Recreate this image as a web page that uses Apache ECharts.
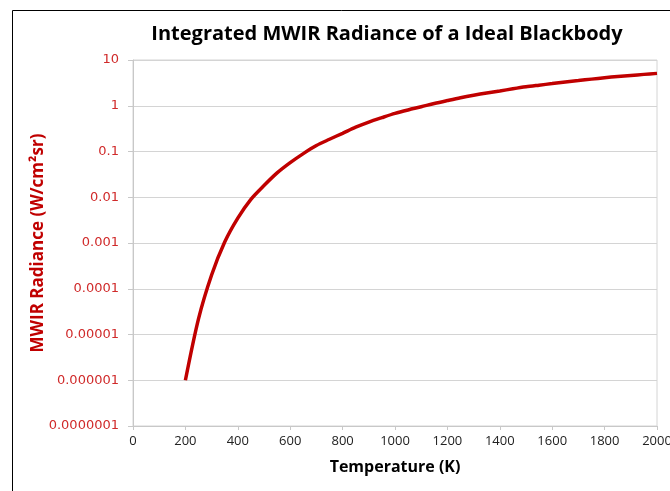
<!DOCTYPE html>
<html>
<head>
<meta charset="utf-8">
<script src="https://cdn.jsdelivr.net/npm/echarts@6/dist/echarts.min.js"></script>
<style>
  html, body { margin: 0; padding: 0; background: #fff; }
  #chart { width: 670px; height: 491px; }
</style>
</head>
<body>
<div id="chart"></div>
<script>
// temperatures (K) every 50 K, and radiance
var temps = [200, 250, 300, 350, 400, 450, 500, 550, 600, 650, 700, 750, 800, 850, 900, 950,
             1000, 1050, 1100, 1150, 1200, 1250, 1300, 1350, 1400, 1450, 1500, 1550, 1600,
             1650, 1700, 1750, 1800, 1850, 1900, 1950, 2000];
var radiance = [1e-6, 2.2e-5, 2.0e-4, 1.05e-3, 3.5e-3, 9e-3, 0.018, 0.034, 0.057, 0.09, 0.135,
                0.185, 0.25, 0.34, 0.44, 0.55, 0.68, 0.81, 0.95, 1.12, 1.3, 1.5, 1.7, 1.9,
                2.1, 2.35, 2.6, 2.82, 3.05, 3.3, 3.55, 3.82, 4.1, 4.35, 4.6, 4.85, 5.1];

var chart = echarts.init(document.getElementById('chart'));
var font = '"Open Sans", sans-serif';

var option = {
    animation: false,
    title: {
        text: 'Integrated MWIR Radiance of a Ideal Blackbody',
        left: 382,
        textAlign: 'center',
        top: 19,
        textStyle: { fontFamily: font, fontSize: 20, fontWeight: 'bold', color: '#000' }
    },
    graphic: [{
        type: 'rect',
        shape: { x: 12.5, y: 10.5, width: 700, height: 600 },
        style: { fill: 'none', stroke: '#000', lineWidth: 1 },
        silent: true
    }],
    grid: {
        left: 133, right: 13, top: 60, bottom: 65,
        outerBoundsMode: 'none',
        show: true, borderColor: '#d4d4d4', borderWidth: 1
    },
    xAxis: {
        type: 'value',
        min: 0, max: 2000, interval: 200,
        name: 'Temperature (K)',
        nameLocation: 'middle',
        nameGap: 33,
        nameTextStyle: { fontFamily: font, fontSize: 16, fontWeight: 'bold', color: '#000' },
        axisLine: { lineStyle: { color: '#c8c8c8' } },
        axisTick: { show: true, length: 4, lineStyle: { color: '#c8c8c8' } },
        axisLabel: {
            fontFamily: font, fontSize: 13, color: '#222', margin: 9,
            formatter: function (v) { return String(v); }
        },
        splitLine: { show: false }
    },
    yAxis: {
        type: 'log',
        logBase: 10,
        min: 1e-7, max: 10,
        name: 'MWIR Radiance (W/cm\u00b2sr)',
        nameLocation: 'middle',
        nameGap: 86,
        nameMoveOverlap: false,
        nameTextStyle: { fontFamily: font, fontSize: 17, fontWeight: 'bold', color: '#c00000' },
        axisLine: { show: true, lineStyle: { color: '#c8c8c8' } },
        axisTick: { show: true, length: 5, lineStyle: { color: '#c8c8c8' } },
        axisLabel: {
            fontFamily: '"DejaVu Sans", sans-serif', fontSize: 13, color: '#d02a2a', margin: 14,
            formatter: function (v) {
                if (v >= 1) return String(Math.round(v));
                return v.toFixed(Math.round(-Math.log10(v)));
            }
        },
        splitLine: { lineStyle: { color: '#d4d4d4' } }
    },
    series: [{
        type: 'line',
        data: temps.map(function (t, i) { return [t, radiance[i]]; }),
        smooth: 0.3,
        showSymbol: false,
        lineStyle: { color: '#c00000', width: 3.5 }
    }]
};

chart.setOption(option);
</script>
</body>
</html>
